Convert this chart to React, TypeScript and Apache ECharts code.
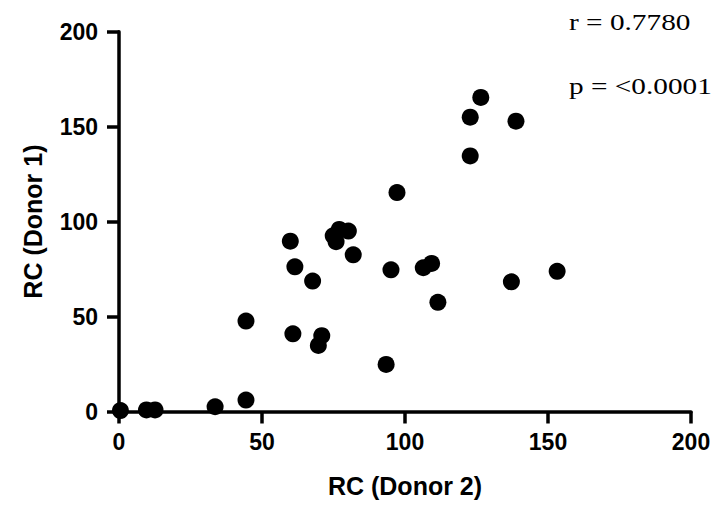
import React, { useEffect, useRef } from "react";
import * as echarts from "echarts";

const donor2: number[] = [0.5, 9.6, 12.6, 33.6, 44.4, 44.4, 60.8, 59.9, 61.5, 67.7, 69.7, 70.9, 74.9, 75.9, 77.0, 80.2, 81.9, 93.4, 95.1, 97.2, 106.4, 109.3, 111.5, 122.8, 122.8, 126.5, 137.2, 138.8, 153.2];
const donor1: number[] = [0.5, 0.8, 0.8, 2.5, 6.0, 47.6, 40.9, 89.7, 76.2, 68.7, 34.8, 39.9, 92.5, 89.4, 95.9, 95.0, 82.5, 24.8, 74.6, 115.3, 75.7, 78.0, 57.5, 134.6, 155.0, 165.4, 68.3, 152.9, 73.8];
const tickValues: number[] = [0, 50, 100, 150, 200];
const xTitle = "RC (Donor 2)";
const yTitle = "RC (Donor 1)";
const statR = "r = 0.7780";
const statP = "p = <0.0001";

export default function App() {
  const ref = useRef<HTMLDivElement>(null);
  useEffect(() => {
    if (!ref.current) return;
    const chart = echarts.init(ref.current, undefined, { renderer: "svg" });
    const pts = donor2.map((x, i) => [x, donor1[i]]);
    const axisCommon = {
      type: "value" as const,
      min: tickValues[0],
      max: tickValues[tickValues.length - 1],
      interval: 50,
      splitLine: { show: false },
      axisLine: { show: true, lineStyle: { color: "#000", width: 3.5 } },
      axisTick: { show: true, inside: false, length: 12, lineStyle: { color: "#000", width: 3.5 } },
      nameTextStyle: { fontFamily: "Liberation Sans", fontWeight: "bold" as const, fontSize: 25, color: "#000" },
    };
    chart.setOption({
      animation: false,
      backgroundColor: "#fff",
      grid: { left: 119, right: 28, top: 31.7, bottom: 100.5, containLabel: false },
      xAxis: {
        ...axisCommon,
        name: xTitle,
        nameLocation: "middle",
        nameGap: 62,
        axisLabel: { margin: 19, fontFamily: "Liberation Sans", fontWeight: "bold", fontSize: 23, color: "#000" },
      },
      yAxis: {
        ...axisCommon,
        name: yTitle,
        nameLocation: "middle",
        nameGap: 74,
        nameRotate: 90,
        axisLabel: { margin: 21, fontFamily: "Liberation Sans", fontWeight: "bold", fontSize: 23, color: "#000" },
      },
      graphic: [
        { type: "text", x: 569, y: 10, scaleX: 1.22, style: { text: statR, font: "24px 'Liberation Serif'", fill: "#000" } },
        { type: "text", x: 569, y: 74, scaleX: 1.22, style: { text: statP, font: "24px 'Liberation Serif'", fill: "#000" } },
      ],
      series: [
        {
          type: "scatter",
          data: pts,
          symbol: "circle",
          symbolSize: 17,
          itemStyle: { color: "#000", opacity: 1 },
          clip: false,
        },
      ],
    });
    return () => chart.dispose();
  }, []);
  return <div ref={ref} style={{ width: 719, height: 512, position: "absolute", left: 0, top: 0 }} />;
}
